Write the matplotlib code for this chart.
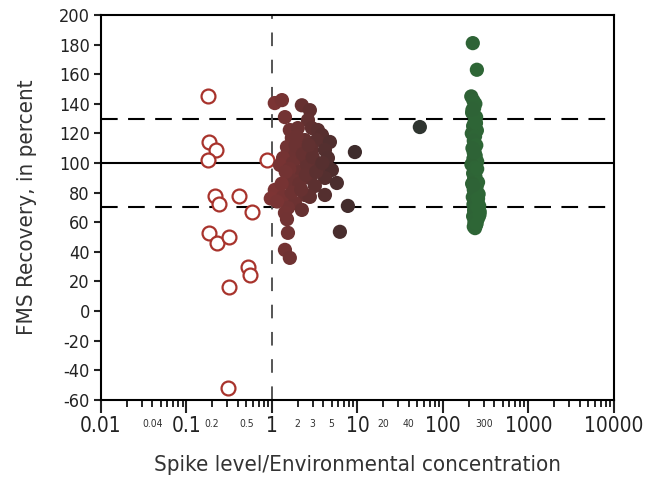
import numpy as np
import matplotlib
matplotlib.use("Agg")
import matplotlib.pyplot as plt
from matplotlib.colors import LinearSegmentedColormap
from matplotlib.ticker import LogLocator, FixedLocator, FixedFormatter, NullFormatter

plt.rcParams['font.family'] = ['DejaVu Sans']
plt.rcParams['font.stretch'] = 'condensed'
plt.rcParams['axes.unicode_minus'] = False

# open circles: spike level / environmental concentration < 1
open_x = [0.18, 0.185, 0.22, 0.178, 0.87, 0.215, 0.24, 0.41, 0.58, 0.183,
          0.226, 0.314, 0.52, 0.55, 0.314, 0.305]
open_y = [145, 114, 109, 102, 102, 78, 72, 78, 67, 53,
          46, 50, 30, 24, 16, -52]

# filled circles: spike level / environmental concentration >= 1
mid_x = [1.08, 1.31, 2.24, 2.78, 1.42, 2.64, 2.94, 1.62, 2.01, 3.45,
         3.85, 1.71, 2.43, 3.36, 4.77, 1.50, 2.12, 2.94, 4.17, 1.86,
         1.35, 4.52, 2.43, 3.18, 1.76, 1.24, 3.64, 5.03, 2.12, 1.54,
         2.78, 4.17, 5.75, 1.76, 3.18, 1.08, 2.43, 1.35, 2.78, 4.17,
         1.86, 1.54, 1.42, 2.24, 1.54, 1.42, 1.62, 9.35, 7.74, 6.24,
         53.8, 0.97, 1.50, 1.9, 2.3, 1.6, 2.6, 1.8, 2.1, 3.0,
         1.45, 2.5, 1.95, 3.3, 1.7, 2.2, 3.9, 1.3, 2.7, 1.15]
mid_y = [140.5, 142.5, 139, 135.7, 131, 129, 123.6, 122.3, 123.6, 122.3,
         118.9, 116.9, 115.5, 115.5, 114.2, 110.8, 110.1, 108.8, 108.8, 105.4,
         103.4, 103.4, 102, 100.7, 100, 98.7, 97.3, 95.3, 93.9, 91.9,
         89.9, 89.9, 86.5, 83.8, 84.5, 81.8, 78.4, 77.1, 77.1, 78.4,
         73, 69.7, 66.3, 68.3, 52.8, 41.3, 35.9, 107.4, 71, 53.5,
         124.3, 76, 62, 112, 106, 96, 98, 88, 86, 104,
         94, 92, 118, 94, 80, 82, 100, 86, 112, 74]

green_x = [224, 250, 215, 228, 240, 232, 220, 245, 236, 226,
           250, 218, 238, 230, 246, 222, 234, 242, 228, 252,
           216, 236, 244, 226, 240, 232, 258, 220, 248, 230,
           236, 262, 224, 242, 254, 228, 266, 238, 232, 270,
           246, 226, 260, 240, 250, 234, 268, 244, 230, 256,
           238, 248, 222, 244, 230, 252, 226, 258]
green_y = [181, 163, 145, 142, 140, 137, 134, 131, 128, 125,
           122, 120, 118, 115, 112, 110, 108, 105, 103, 101,
           99, 97, 95, 93, 91, 89, 87, 86, 84, 82,
           80, 79, 77, 75, 74, 72, 71, 69, 68, 67,
           66, 64, 63, 62, 61, 60, 65, 58, 57, 70,
           56, 59, 136, 127, 107, 96, 85, 76]

major_ticks = [0.01, 0.1, 1, 10, 100, 1000, 10000]
major_labels = ['0.01', '0.1', '1', '10', '100', '1000', '10000']
small_ticks = [0.04, 0.2, 0.5, 2, 3, 5, 20, 40, 300]
small_labels = ['0.04', '0.2', '0.5', '2', '3', '5', '20', '40', '300']

fill_x = np.array(mid_x + green_x)
fill_y = np.array(mid_y + green_y)

cmap = LinearSegmentedColormap.from_list(
    'spike', [(0.0, '#7d3434'), (0.42, '#3b2c2c'), (0.72, '#2f3530'), (1.0, '#2e6636')])

fig = plt.figure(figsize=(6.6, 4.84), dpi=100)
ax = fig.add_axes([0.153, 0.174, 0.777, 0.795])

ax.axhline(100, color='black', lw=1.5, zorder=1)
ax.axhline(130, color='black', lw=1.5, ls=(0, (8, 5)), zorder=1)
ax.axhline(70, color='black', lw=1.5, ls=(0, (8, 5)), zorder=1)
ax.axvline(1, color='#555555', lw=1.4, ls=(0, (7, 7)), zorder=1)

ax.scatter(open_x, open_y, s=100, facecolors='white', edgecolors='#a8332c',
           linewidths=1.6, zorder=3)
ax.scatter(fill_x, fill_y, s=105, c=np.log10(fill_x), cmap=cmap, vmin=0, vmax=2.4,
           edgecolors='none', zorder=3)

ax.set_xscale('log')
ax.set_xlim(0.01, 10000)
ax.set_ylim(-60, 200)
ax.set_yticks(np.arange(-60, 201, 20))

ax.xaxis.set_major_locator(FixedLocator(major_ticks))
ax.xaxis.set_major_formatter(FixedFormatter(major_labels))
ax.xaxis.set_minor_locator(LogLocator(base=10, subs=np.arange(2, 10), numticks=20))
ax.xaxis.set_minor_formatter(NullFormatter())

ax.tick_params(axis='x', which='major', length=9, width=1.5, labelsize=15,
               colors='#222222', pad=3)
ax.tick_params(axis='x', which='minor', length=5, width=1.2)
ax.tick_params(axis='y', length=5, width=1.5, labelsize=13, colors='#222222', pad=3)

for v, lab in zip(small_ticks, small_labels):
    ax.annotate(lab, xy=(v, 0), xycoords=('data', 'axes fraction'),
                xytext=(0, -14), textcoords='offset points',
                ha='center', va='top', fontsize=7.5, color='#333333')

for sp in ax.spines.values():
    sp.set_linewidth(1.5)

ax.set_xlabel('Spike level/Environmental concentration', fontsize=16, color='#333333',
              labelpad=13)
ax.set_ylabel('FMS Recovery, in percent', fontsize=16, color='#333333', labelpad=16)

fig.savefig('out.png', dpi=100)
